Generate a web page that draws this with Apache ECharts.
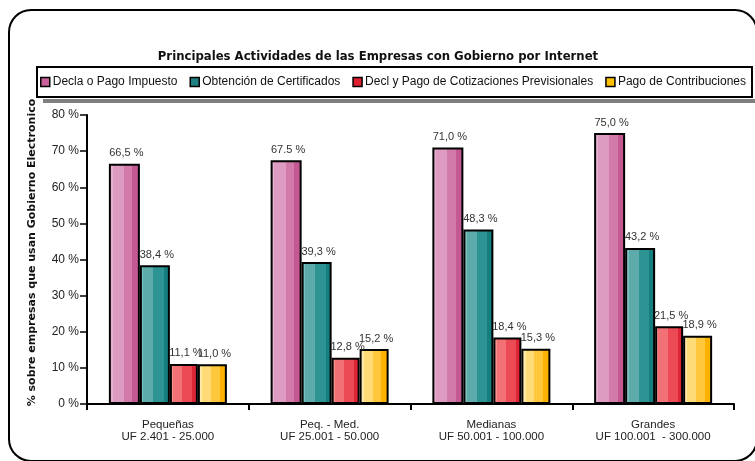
<!DOCTYPE html>
<html>
<head>
<meta charset="utf-8">
<script src="https://cdn.jsdelivr.net/npm/echarts@6/dist/echarts.min.js"></script>
<style>
  html, body { margin: 0; padding: 0; background: #fff; }
  #chart { width: 755px; height: 461px; }
</style>
</head>
<body>
<div id="chart"></div>
<script>
// categorías (tamaño de empresa)
var categories = [
  'Pequeñas\nUF 2.401 - 25.000',
  'Peq. - Med.\nUF 25.001 - 50.000',
  'Medianas\nUF 50.001 - 100.000',
  'Grandes\nUF 100.001  - 300.000'
];
var seriesNames = [
  'Decla o Pago Impuesto',
  'Obtención de Certificados',
  'Decl y Pago de Cotizaciones Previsionales',
  'Pago de Contribuciones'
];
var impuesto = [66.5, 67.5, 71.0, 75.0];
var certificados = [38.4, 39.3, 48.3, 43.2];
var cotizaciones = [11.1, 12.8, 18.4, 21.5];
var contribuciones = [11.0, 15.2, 15.3, 18.9];
// etiquetas tal como aparecen
var impuestoLbl = ['66,5 %', '67.5 %', '71,0 %', '75,0 %'];
var certificadosLbl = ['38,4 %', '39,3 %', '48,3 %', '43,2 %'];
var cotizacionesLbl = ['11,1 %', '12,8 %', '18,4 %', '21,5 %'];
var contribucionesLbl = ['11,0 %', '15,2 %', '15,3 %', '18,9 %'];

var font = "'Liberation Sans', Arial, sans-serif";
var boldFont = "'DejaVu Sans', sans-serif";

function bands(stops) {
  var cs = [];
  for (var i = 0; i < stops.length; i++) {
    cs.push({ offset: stops[i][0], color: stops[i][2] });
    cs.push({ offset: stops[i][1], color: stops[i][2] });
  }
  return { type: 'linear', x: 0, y: 0, x2: 1, y2: 0, colorStops: cs };
}

var fills = [
  bands([[0, 0.12, '#E6B2D2'], [0.12, 0.48, '#DE9BC1'], [0.48, 0.76, '#D27AAA'], [0.76, 1, '#C45892']]),
  bands([[0, 0.12, '#7DC0C0'], [0.12, 0.45, '#5EABAC'], [0.45, 0.8, '#2E9393'], [0.8, 1, '#157F7F']]),
  bands([[0, 0.12, '#F79088'], [0.12, 0.45, '#F27176'], [0.45, 0.8, '#EC4A55'], [0.8, 1, '#DD2535']]),
  bands([[0, 0.15, '#FFE9A6'], [0.15, 0.45, '#FFDB78'], [0.45, 0.75, '#FFC83C'], [0.75, 1, '#FDB200']])
];
var legendColors = ['#C8609A', '#1E8080', '#E0202E', '#FFC000'];
var widths = [31, 30, 28, 29];
var values = [impuesto, certificados, cotizaciones, contribuciones];
var labels = [impuestoLbl, certificadosLbl, cotizacionesLbl, contribucionesLbl];

var chart = echarts.init(document.getElementById('chart'), null, { renderer: 'canvas' });

var series = seriesNames.map(function(name, s) {
  return {
    type: 'bar',
    name: name,
    barWidth: widths[s],
    barGap: '0%',
    data: values[s],
    itemStyle: { color: fills[s], borderColor: '#000', borderWidth: 2 },
    label: {
      show: true,
      position: 'top',
      distance: 5,
      offset: [2, 0],
      color: '#333',
      fontSize: 11,
      fontFamily: font,
      formatter: function(p) { return labels[s][p.dataIndex]; }
    },
    emphasis: { disabled: true }
  };
});

chart.setOption({
  animation: false,
  backgroundColor: '#fff',
  title: {
    text: 'Principales Actividades de las Empresas con Gobierno por Internet',
    left: 373,
    textAlign: 'center',
    top: 46,
    textStyle: { fontSize: 11.7, fontWeight: 'bold', color: '#111', fontFamily: boldFont }
  },
  graphic: {
    elements: [
      { type: 'rect', shape: { x: 9, y: 10, width: 748, height: 451, r: 22 },
        style: { fill: 'none', stroke: '#000', lineWidth: 2 }, z: 100 },
      // sombra gris de la leyenda
      { type: 'rect', shape: { x: 43, y: 99, width: 715, height: 4 },
        style: { fill: '#7f7f7f' }, z: 1 },
      { type: 'rect', shape: { x: 37, y: 67, width: 715, height: 30 },
        style: { fill: '#fff', stroke: '#000', lineWidth: 2 }, z: 2 }
    ]
  },
  legend: {
    left: 40,
    top: 76,
    padding: 0,
    z: 10,
    itemWidth: 9,
    itemHeight: 9,
    itemGap: 12,
    icon: 'rect',
    textStyle: { fontSize: 12, color: '#111', fontFamily: font, padding: [0, 0, 0, -2] },
    data: seriesNames.map(function(n, i) {
      return { name: n, itemStyle: { color: legendColors[i], borderColor: '#000', borderWidth: 1.5 } };
    })
  },
  grid: { left: 87, right: 21, top: 115, bottom: 57 },
  xAxis: {
    type: 'category',
    data: categories,
    axisLine: { lineStyle: { color: '#000', width: 2 } },
    axisTick: { show: true, length: 6, lineStyle: { color: '#000', width: 2 } },
    axisLabel: { color: '#222', fontSize: 11.5, lineHeight: 12, margin: 15, fontFamily: font }
  },
  yAxis: {
    type: 'value',
    min: 0,
    max: 80,
    interval: 10,
    name: '% sobre empresas que usan Gobierno Electronico',
    nameLocation: 'middle',
    nameRotate: 90,
    nameGap: 49,
    nameTextStyle: { fontSize: 11, fontWeight: 'bold', color: '#111', fontFamily: boldFont, padding: [0, 0, 0, 14] },
    splitLine: { show: false },
    axisLine: { show: true, lineStyle: { color: '#000', width: 2 } },
    axisTick: { show: true, length: 7, lineStyle: { color: '#000', width: 1.5 } },
    axisLabel: { color: '#222', fontSize: 12, margin: 8, fontFamily: font, formatter: '{value} %' }
  },
  series: series
});

window.addEventListener('resize', function() { chart.resize(); });
</script>
</body>
</html>
